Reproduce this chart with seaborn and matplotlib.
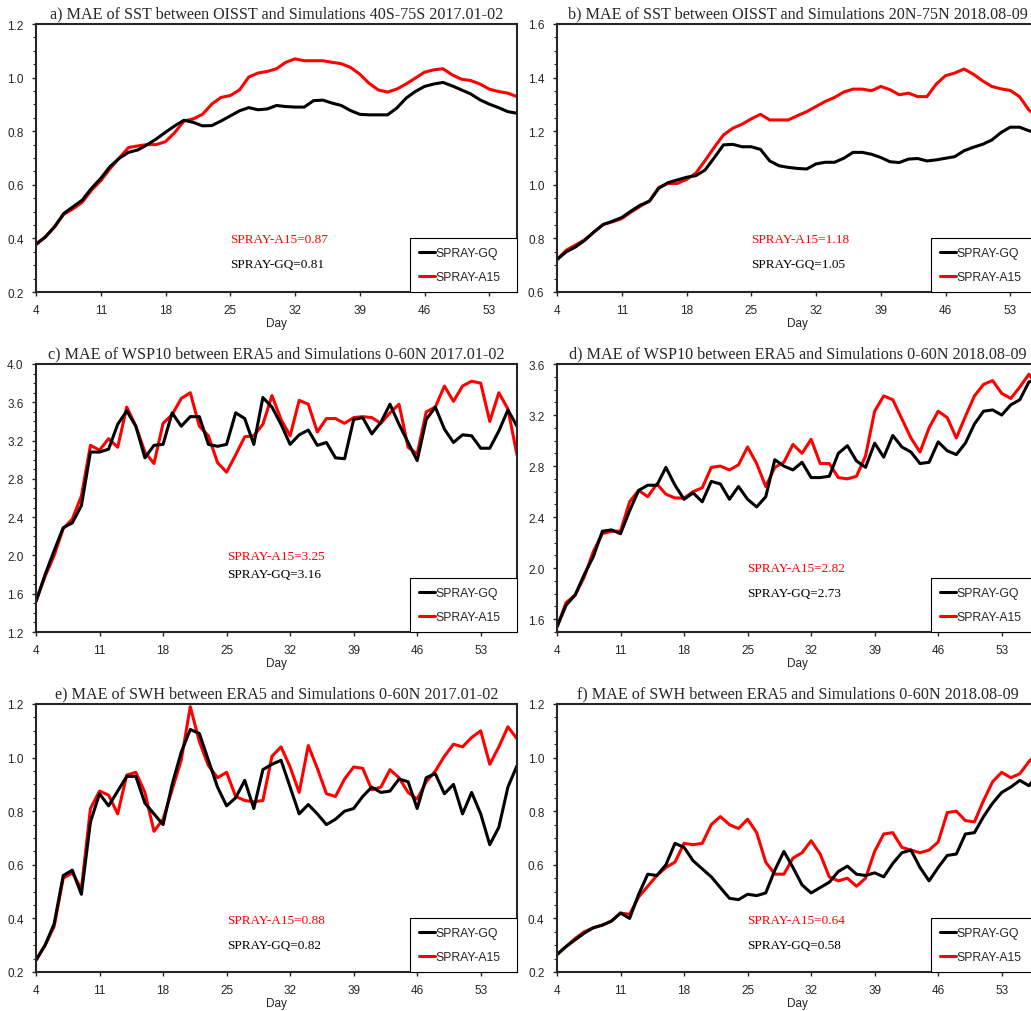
import numpy as np
import pandas as pd
import seaborn as sns
import matplotlib.pyplot as plt
from matplotlib.lines import Line2D
from matplotlib.ticker import MultipleLocator

# Days of forecast
days_ab = np.arange(4, 57)
days_cf = np.arange(4, 58)

# a) SST 40S-75S 2017.01-02
sst_jan_gq = [0.377, 0.405, 0.443, 0.493, 0.518, 0.543, 0.587, 0.624, 0.668, 0.699,
              0.721, 0.730, 0.749, 0.771, 0.796, 0.820, 0.841, 0.833, 0.820, 0.821,
              0.838, 0.857, 0.876, 0.888, 0.880, 0.883, 0.896, 0.892, 0.890, 0.890,
              0.914, 0.916, 0.905, 0.896, 0.877, 0.863, 0.861, 0.861, 0.861, 0.886,
              0.923, 0.948, 0.967, 0.976, 0.982, 0.969, 0.954, 0.939, 0.917, 0.901,
              0.888, 0.873, 0.867]
sst_jan_a15 = [0.38, 0.405, 0.443, 0.49, 0.51, 0.535, 0.58, 0.615, 0.66, 0.70,
               0.739, 0.745, 0.75, 0.75, 0.761, 0.795, 0.838, 0.846, 0.863, 0.901,
               0.926, 0.933, 0.954, 1.002, 1.017, 1.023, 1.033, 1.057, 1.070, 1.063,
               1.063, 1.063, 1.057, 1.052, 1.038, 1.013, 0.979, 0.954, 0.946, 0.957,
               0.976, 0.998, 1.020, 1.029, 1.033, 1.010, 0.994, 0.989, 0.976, 0.957,
               0.948, 0.942, 0.929]

# b) SST 20N-75N 2018.08-09
sst_aug_gq = [0.721, 0.750, 0.768, 0.793, 0.824, 0.852, 0.864, 0.878, 0.902, 0.924,
              0.939, 0.987, 1.008, 1.018, 1.028, 1.034, 1.055, 1.101, 1.149, 1.151,
              1.142, 1.142, 1.132, 1.089, 1.071, 1.065, 1.061, 1.059, 1.078, 1.084,
              1.084, 1.099, 1.121, 1.121, 1.114, 1.102, 1.086, 1.083, 1.096, 1.098,
              1.089, 1.093, 1.099, 1.105, 1.127, 1.140, 1.151, 1.167, 1.195, 1.215,
              1.215, 1.202, 1.192]
sst_aug_a15 = [0.721, 0.756, 0.775, 0.795, 0.824, 0.852, 0.862, 0.874, 0.898, 0.920,
               0.940, 0.990, 1.005, 1.005, 1.020, 1.043, 1.090, 1.140, 1.186, 1.211,
               1.226, 1.246, 1.263, 1.242, 1.242, 1.242, 1.258, 1.273, 1.292, 1.311,
               1.326, 1.346, 1.357, 1.357, 1.351, 1.367, 1.355, 1.336, 1.342, 1.329,
               1.329, 1.376, 1.407, 1.417, 1.432, 1.413, 1.388, 1.367, 1.358, 1.352,
               1.329, 1.280, 1.250]

# c) WSP10 0-60N 2017.01-02
wsp_jan_gq = [1.52, 1.80, 2.05, 2.29, 2.34, 2.52, 3.08, 3.08, 3.11, 3.37,
              3.51, 3.35, 3.02, 3.15, 3.16, 3.49, 3.35, 3.45, 3.45, 3.16,
              3.14, 3.16, 3.49, 3.43, 3.16, 3.65, 3.55, 3.37, 3.16, 3.26,
              3.31, 3.15, 3.18, 3.02, 3.01, 3.42, 3.44, 3.27, 3.39, 3.58,
              3.37, 3.18, 2.99, 3.42, 3.55, 3.32, 3.18, 3.26, 3.25, 3.12,
              3.12, 3.30, 3.52, 3.35]
wsp_jan_a15 = [1.52, 1.78, 2.00, 2.28, 2.38, 2.62, 3.15, 3.10, 3.22, 3.13,
               3.55, 3.35, 3.08, 2.96, 3.38, 3.47, 3.64, 3.70, 3.35, 3.25,
               2.97, 2.87, 3.05, 3.24, 3.25, 3.37, 3.67, 3.42, 3.25, 3.62,
               3.58, 3.29, 3.43, 3.43, 3.38, 3.44, 3.45, 3.44, 3.38, 3.49,
               3.58, 3.13, 3.06, 3.50, 3.55, 3.77, 3.61, 3.77, 3.82, 3.80,
               3.40, 3.70, 3.53, 3.05]

# d) WSP10 0-60N 2018.08-09
wsp_aug_gq = [1.54, 1.71, 1.79, 1.95, 2.09, 2.29, 2.30, 2.27, 2.45, 2.61,
              2.65, 2.65, 2.79, 2.65, 2.54, 2.59, 2.52, 2.68, 2.66, 2.54,
              2.64, 2.54, 2.48, 2.56, 2.85, 2.80, 2.77, 2.83, 2.71, 2.71,
              2.72, 2.90, 2.96, 2.84, 2.79, 2.98, 2.87, 3.04, 2.95, 2.91,
              2.82, 2.83, 2.99, 2.92, 2.89, 2.98, 3.13, 3.23, 3.24, 3.20,
              3.28, 3.32, 3.46, 3.48]
wsp_aug_a15 = [1.54, 1.73, 1.79, 1.93, 2.13, 2.27, 2.29, 2.29, 2.52, 2.61,
               2.56, 2.66, 2.58, 2.55, 2.55, 2.60, 2.63, 2.79, 2.80, 2.77,
               2.81, 2.95, 2.82, 2.64, 2.79, 2.83, 2.97, 2.90, 3.01, 2.82,
               2.82, 2.71, 2.70, 2.72, 2.88, 3.23, 3.35, 3.32, 3.17, 3.02,
               2.91, 3.10, 3.23, 3.18, 3.02, 3.19, 3.35, 3.44, 3.47, 3.37,
               3.33, 3.42, 3.52, 3.42]

# e) SWH 0-60N 2017.01-02
swh_jan_gq = [0.244, 0.30, 0.38, 0.56, 0.58, 0.49, 0.76, 0.865, 0.82, 0.875,
              0.93, 0.93, 0.83, 0.79, 0.75, 0.90, 1.02, 1.105, 1.09, 0.99,
              0.89, 0.82, 0.85, 0.915, 0.81, 0.955, 0.975, 0.99, 0.89, 0.79,
              0.825, 0.79, 0.75, 0.77, 0.80, 0.81, 0.855, 0.89, 0.87, 0.875,
              0.92, 0.91, 0.81, 0.925, 0.94, 0.865, 0.90, 0.79, 0.87, 0.79,
              0.675, 0.74, 0.89, 0.97]
swh_jan_a15 = [0.244, 0.30, 0.37, 0.55, 0.57, 0.51, 0.81, 0.875, 0.86, 0.79,
               0.935, 0.945, 0.87, 0.725, 0.77, 0.88, 0.99, 1.19, 1.06, 0.97,
               0.925, 0.945, 0.855, 0.84, 0.835, 0.84, 1.005, 1.04, 0.965, 0.87,
               1.045, 0.96, 0.865, 0.855, 0.92, 0.965, 0.96, 0.88, 0.89, 0.955,
               0.925, 0.87, 0.845, 0.91, 0.95, 1.005, 1.05, 1.04, 1.075, 1.10,
               0.975, 1.04, 1.115, 1.07]

# f) SWH 0-60N 2018.08-09
swh_aug_gq = [0.265, 0.295, 0.32, 0.345, 0.365, 0.375, 0.39, 0.42, 0.40, 0.49,
              0.565, 0.56, 0.60, 0.68, 0.665, 0.615, 0.585, 0.555, 0.515, 0.475,
              0.47, 0.49, 0.485, 0.495, 0.58, 0.65, 0.59, 0.525, 0.495, 0.515,
              0.535, 0.575, 0.595, 0.565, 0.56, 0.57, 0.555, 0.605, 0.645, 0.655,
              0.59, 0.54, 0.59, 0.635, 0.64, 0.715, 0.72, 0.78, 0.83, 0.87,
              0.89, 0.915, 0.895, 0.94]
swh_aug_a15 = [0.265, 0.295, 0.325, 0.35, 0.365, 0.375, 0.39, 0.42, 0.415, 0.48,
               0.52, 0.56, 0.59, 0.61, 0.68, 0.675, 0.68, 0.75, 0.78, 0.75,
               0.735, 0.77, 0.72, 0.61, 0.565, 0.565, 0.625, 0.645, 0.69, 0.64,
               0.555, 0.54, 0.55, 0.52, 0.55, 0.65, 0.715, 0.72, 0.665, 0.655,
               0.645, 0.655, 0.685, 0.795, 0.80, 0.765, 0.76, 0.84, 0.91, 0.945,
               0.925, 0.94, 0.985, 1.02]

titles = ["a) MAE of SST between OISST and Simulations 40S-75S 2017.01-02",
          "b) MAE of SST between OISST and Simulations 20N-75N 2018.08-09",
          "c) MAE of WSP10 between ERA5 and Simulations 0-60N 2017.01-02",
          "d) MAE of WSP10 between ERA5 and Simulations 0-60N 2018.08-09",
          "e) MAE of SWH between ERA5 and Simulations 0-60N 2017.01-02",
          "f) MAE of SWH between ERA5 and Simulations 0-60N 2018.08-09"]
mean_a15 = ["0.87", "1.18", "3.25", "2.82", "0.88", "0.64"]
mean_gq = ["0.81", "1.05", "3.16", "2.73", "0.82", "0.58"]

panels = [
    (days_ab, sst_jan_gq, sst_jan_a15, (0.2, 1.2), 0.2, 0.05, (4, 56)),
    (days_ab, sst_aug_gq, sst_aug_a15, (0.6, 1.6), 0.2, 0.05, (4, 56)),
    (days_cf, wsp_jan_gq, wsp_jan_a15, (1.2, 4.0), 0.4, 0.1, (4, 57)),
    (days_cf, wsp_aug_gq, wsp_aug_a15, (1.5, 3.6), 0.4, 0.1, (4, 57)),
    (days_cf, swh_jan_gq, swh_jan_a15, (0.2, 1.2), 0.2, 0.05, (4, 57)),
    (days_cf, swh_aug_gq, swh_aug_a15, (0.2, 1.2), 0.2, 0.05, (4, 57)),
]
# text positions (axes fraction) of the mean values
text_y = [(0.198, 0.104), (0.198, 0.104), (0.284, 0.216),
          (0.239, 0.146), (0.195, 0.100), (0.195, 0.100)]
text_x = [0.403, 0.403, 0.397, 0.395, 0.397, 0.395]

sns.set_style("ticks")
plt.rcParams["font.family"] = ["Liberation Sans", "DejaVu Sans"]

W, H = 1031, 1012
fig = plt.figure(figsize=(W / 100, H / 100), dpi=100)

lefts = [36, 557]
bottoms = [293, 633, 973]
aw, ah = 481, 268

for i, (days, gq, a15, ylim, major, minor, xlim) in enumerate(panels):
    row, col = divmod(i, 2)
    ax = fig.add_axes([lefts[col] / W, 1 - bottoms[row] / H, aw / W, ah / H])
    df = pd.DataFrame({
        "Day": np.concatenate([days, days]),
        "MAE": list(a15) + list(gq),
        "Run": ["SPRAY-A15"] * len(days) + ["SPRAY-GQ"] * len(days),
    })
    sns.lineplot(data=df, x="Day", y="MAE", hue="Run",
                 palette={"SPRAY-GQ": "black", "SPRAY-A15": "red"},
                 linewidth=2.2, legend=False, ax=ax)
    ax.set_xlim(*xlim)
    ax.set_ylim(*ylim)
    ax.set_xticks(range(4, 54, 7))
    ax.yaxis.set_major_locator(MultipleLocator(major))
    ax.yaxis.set_minor_locator(MultipleLocator(minor))
    ax.yaxis.set_major_formatter(plt.FormatStrFormatter("%.1f"))
    ax.tick_params(which="major", length=3, width=1, labelsize=8.5, pad=6)
    ax.tick_params(which="minor", length=2, width=0.8)
    for s in ax.spines.values():
        s.set_linewidth(1.5)
        s.set_visible(True)
    ax.set_xlabel("Day", fontsize=8.5, labelpad=0.5)
    ax.set_ylabel("")
    ax.set_title(titles[i], fontsize=11.6, family="Liberation Serif", pad=5)

    ax.text(text_x[i], text_y[i][0], "SPRAY-A15=" + mean_a15[i], color="red",
            family="Liberation Serif", fontsize=9.5, transform=ax.transAxes,
            va="center")
    ax.text(text_x[i], text_y[i][1], "SPRAY-GQ=" + mean_gq[i], color="black",
            family="Liberation Serif", fontsize=9.5, transform=ax.transAxes,
            va="center")

    handles = [Line2D([], [], color="black", lw=2.2),
               Line2D([], [], color="red", lw=2.2)]
    leg = ax.legend(handles, ["SPRAY-GQ", "SPRAY-A15"], loc="lower right",
                    bbox_to_anchor=(1 - 107 / aw, 0, 107 / aw, 54 / ah),
                    mode="expand", fontsize=8.8, frameon=True, fancybox=False,
                    framealpha=1, edgecolor="black", borderaxespad=0,
                    handlelength=1.3, handletextpad=0.05, labelspacing=0.95,
                    borderpad=0.75)
    leg.get_frame().set_linewidth(0.8)

fig.savefig("out.png", dpi=100)
